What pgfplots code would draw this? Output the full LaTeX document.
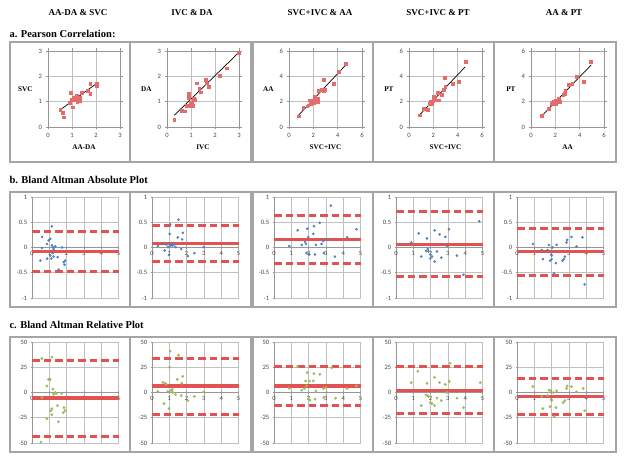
\documentclass[border=0pt]{standalone}
\usepackage{fontspec}
\setmainfont{Liberation Serif}
\newfontfamily\carlito{Carlito}
\usepackage{pgfplots}
\pgfplotsset{compat=1.18}
\definecolor{ptred}{RGB}{228,108,108}
\definecolor{bablue}{RGB}{79,129,189}
\definecolor{brgreen}{RGB}{155,187,89}
\definecolor{lnred}{RGB}{226,82,82}
\definecolor{gridc}{RGB}{192,192,192}
\definecolor{axc}{RGB}{150,150,150}
\definecolor{boxc}{RGB}{165,165,165}
\definecolor{tickc}{RGB}{70,70,70}
\pgfplotsset{
  base/.style={scale only axis, anchor=south west, clip=false,
    tick label style={font=\carlito\fontsize{6.6}{7.5}\selectfont, text=tickc},
    /pgf/number format/assume math mode=true,
    grid=major, grid style={gridc, line width=0.6pt},
    axis line style={axc, line width=0.6pt},
    tick style={axc, line width=0.6pt},
    tick align=outside, major tick length=2.5pt,
    label style={font=\bfseries\fontsize{7.2}{8}\selectfont},
    xlabel style={at={(axis description cs:0.5,0)}, anchor=center, yshift=-20pt},
    ylabel style={rotate=-90, at={(axis description cs:0,0.5)}, anchor=east, xshift=-12pt},
  },
  rowa3/.style={base, width=72pt, height=76pt, xmin=0, xmax=3, ymin=0, ymax=3,
    xtick={0,1,2,3}, ytick={0,1,2,3}},
  rowa6/.style={base, width=73pt, height=76pt, xmin=0, xmax=6, ymin=0, ymax=6,
    xtick={0,2,4,6}, ytick={0,2,4,6}},
  rowb/.style={base, width=86.5pt, height=101pt, xmin=0, xmax=5, ymin=-1, ymax=1,
    xtick={0,1,2,3,4,5}, ytick={-1,-0.5,0,0.5,1},
    axis x line=middle, axis y line=left, axis line style={-},
    hide obscured x ticks=false, hide obscured y ticks=false,
    xticklabel style={yshift=1pt}},
  rowc/.style={rowb, ymin=-50, ymax=50, ytick={-50,-25,0,25,50}},
  pts/.style={only marks, mark=square*, mark size=1.4pt, color=ptred},
  trend/.style={black, line width=0.7pt, no marks},
  bpts/.style={only marks, mark=*, mark size=1.1pt, color=bablue},
  cpts/.style={only marks, mark=*, mark size=1.2pt, color=brgreen},
  mline/.style={lnred, line width=3.3pt, no marks},
  dline/.style={lnred, line width=3pt, no marks, dash pattern=on 7.5pt off 4pt},
}
\begin{document}
\begin{tikzpicture}[x=1pt,y=1pt]
\useasboundingbox (0,0) rectangle (624,460);
% headers
\foreach \cx/\t in {78/{AA-DA \& SVC},192/{IVC \& DA},320/{SVC+IVC \& AA},438/{SVC+IVC \& PT},564/{AA \& PT}}
  \node[font=\bfseries\fontsize{9}{10}\selectfont] at (\cx,447) {\t};
\node[anchor=west, font=\bfseries\fontsize{10.5}{11}\selectfont] at (6,426) {a. Pearson Correlation:};
\node[anchor=west, font=\bfseries\fontsize{10.5}{11}\selectfont] at (6,280) {b. Bland Altman Absolute Plot};
\node[anchor=west, font=\bfseries\fontsize{10.5}{11}\selectfont] at (6,135) {c. Bland Altman Relative Plot};
% panel boxes
\foreach \xa/\xb in {10/130,130/251,253/373,373/494,494/616}{
  \draw[boxc, line width=1.3pt] (\xa,298) rectangle (\xb,418);
  \draw[boxc, line width=1.3pt] (\xa,153) rectangle (\xb,268);
  \draw[boxc, line width=1.3pt] (\xa,8) rectangle (\xb,123);
}
% ---------- row a ----------
\begin{axis}[rowa3, at={(48pt,333pt)}, xlabel={AA-DA}, ylabel={SVC}]
\addplot[pts] coordinates {(0.51,0.69)(0.60,0.55)(0.67,0.39)(0.95,1.34)(0.98,1.07)(1.02,0.78)(1.12,1.17)(1.19,1.24)(1.22,1.00)(1.31,1.04)(1.34,1.17)(1.41,1.34)(1.17,1.07)(1.28,1.11)(1.65,1.43)(1.76,1.30)(1.76,1.72)(2.03,1.72)(2.03,1.63)(0.90,0.95)(1.05,1.15)};
\addplot[trend] coordinates {(0.51,0.68)(2.03,1.72)};
\end{axis}
\begin{axis}[rowa3, at={(167pt,333pt)}, xlabel={IVC}, ylabel={DA}]
\addplot[pts] coordinates {(0.30,0.30)(0.61,0.63)(0.75,0.62)(0.89,1.30)(0.91,1.17)(0.93,0.85)(1.02,0.98)(1.06,0.83)(1.12,1.11)(1.16,1.07)(1.23,1.73)(1.34,1.50)(1.40,1.37)(1.61,1.86)(1.66,1.73)(1.73,1.60)(2.21,2.02)(2.48,2.32)(2.98,2.93)(0.82,0.85)(0.98,0.94)};
\addplot[trend] coordinates {(0.30,0.46)(2.98,2.93)};
\end{axis}
\begin{axis}[rowa6, at={(289pt,333pt)}, xlabel={SVC+IVC}, ylabel={AA}]
\addplot[pts] coordinates {(0.80,0.85)(1.16,1.50)(1.57,1.72)(1.71,2.12)(1.85,1.98)(2.00,1.90)(2.13,2.38)(2.27,2.17)(2.40,2.25)(2.46,2.86)(2.68,2.96)(2.82,2.83)(2.87,3.76)(2.96,2.96)(3.65,3.44)(4.06,4.37)(4.67,4.97)(1.49,1.64)(1.80,1.85)(2.04,2.12)(2.35,1.98)};
\addplot[trend] coordinates {(0.80,0.95)(4.62,4.85)};
\end{axis}
\begin{axis}[rowa6, at={(409pt,333pt)}, xlabel={SVC+IVC}, ylabel={PT}]
\addplot[pts] coordinates {(0.86,0.93)(1.19,1.46)(1.54,1.38)(1.68,1.85)(1.81,1.98)(1.95,2.04)(2.03,2.17)(2.00,2.43)(2.22,2.12)(2.35,2.70)(2.43,2.12)(2.70,2.57)(2.84,2.96)(2.95,3.92)(2.97,3.17)(3.62,3.44)(4.11,3.57)(4.65,5.13)(1.89,1.85)(2.11,2.25)};
\addplot[trend] coordinates {(0.86,0.95)(4.62,4.75)};
\end{axis}
\begin{axis}[rowa6, at={(531pt,333pt)}, xlabel={AA}, ylabel={PT}]
\addplot[pts] coordinates {(0.89,0.90)(1.46,1.46)(1.68,1.85)(1.81,1.90)(1.89,2.04)(2.03,2.12)(2.30,2.25)(2.35,1.98)(2.76,2.65)(2.81,2.91)(3.11,3.31)(3.38,3.44)(3.76,3.97)(4.35,3.60)(4.92,5.16)(2.03,1.85)(2.22,2.04)(2.65,2.55)};
\addplot[trend] coordinates {(0.89,0.88)(4.95,4.90)};
\end{axis}
% ---------- row b ----------
\begin{axis}[rowb, at={(32pt,162pt)}]
\addplot[mline] coordinates {(0,-0.08)(5,-0.08)};
\addplot[dline] coordinates {(0,0.32)(5,0.32)};
\addplot[dline] coordinates {(0,-0.48)(5,-0.48)};
\addplot[bpts] coordinates {(0.58,0.21)(0.58,-0.01)(0.48,-0.26)(0.87,0.07)(0.96,0.14)(1.06,0.17)(1.15,0.42)(1.15,0.04)(1.21,0.00)(1.25,-0.03)(1.35,0.02)(1.06,-0.16)(0.87,-0.22)(1.12,-0.22)(1.25,-0.18)(1.48,-0.19)(1.54,-0.44)(1.73,0.00)(1.83,-0.29)(1.88,-0.34)(1.92,-0.26)(1.19,-0.11)};
\end{axis}
\begin{axis}[rowb, at={(152pt,162pt)}]
\addplot[mline] coordinates {(0,0.08)(5,0.08)};
\addplot[dline] coordinates {(0,0.43)(5,0.43)};
\addplot[dline] coordinates {(0,-0.27)(5,-0.27)};
\addplot[bpts] coordinates {(0.34,0.03)(0.63,0.07)(0.73,-0.06)(0.82,0.06)(0.92,0.01)(0.98,-0.15)(1.02,0.27)(1.05,0.46)(1.07,0.04)(1.11,0.07)(1.17,0.04)(1.25,0.05)(1.36,0.01)(1.49,0.20)(1.53,0.55)(1.69,-0.03)(1.74,0.16)(1.78,0.29)(2.07,-0.17)(2.45,-0.11)(2.99,0.01)};
\end{axis}
\begin{axis}[rowb, at={(274pt,162pt)}]
\addplot[mline] coordinates {(0,0.16)(5,0.16)};
\addplot[dline] coordinates {(0,0.63)(5,0.63)};
\addplot[dline] coordinates {(0,-0.32)(5,-0.32)};
\addplot[bpts] coordinates {(0.88,0.03)(1.37,0.34)(1.60,0.05)(1.79,0.11)(1.85,0.07)(1.88,-0.11)(1.92,0.37)(1.98,0.21)(2.04,-0.14)(2.27,0.27)(2.31,0.42)(2.37,-0.14)(2.42,0.05)(2.65,0.49)(2.75,0.07)(2.85,0.13)(2.88,-0.11)(3.00,0.16)(3.29,0.83)(3.52,-0.18)(4.23,0.20)(4.77,0.36)};
\end{axis}
\begin{axis}[rowb, at={(396pt,162pt)}]
\addplot[mline] coordinates {(0,0.065)(5,0.065)};
\addplot[dline] coordinates {(0,0.72)(5,0.72)};
\addplot[dline] coordinates {(0,-0.575)(5,-0.575)};
\addplot[bpts] coordinates {(0.88,0.10)(1.31,0.28)(1.46,-0.18)(1.75,-0.07)(1.79,0.18)(1.83,-0.03)(1.88,-0.08)(1.98,-0.14)(1.98,-0.22)(2.08,-0.18)(2.23,-0.28)(2.23,0.34)(2.37,-0.08)(2.52,0.26)(2.62,-0.20)(2.85,0.21)(2.94,0.03)(3.06,0.36)(3.52,-0.16)(3.90,-0.54)(4.81,0.52)};
\end{axis}
\begin{axis}[rowb, at={(517pt,162pt)}]
\addplot[mline] coordinates {(0,-0.085)(5,-0.085)};
\addplot[dline] coordinates {(0,0.385)(5,0.385)};
\addplot[dline] coordinates {(0,-0.545)(5,-0.545)};
\addplot[bpts] coordinates {(0.92,0.07)(1.43,-0.05)(1.49,-0.23)(1.77,-0.05)(1.85,0.05)(1.91,-0.26)(2.00,-0.16)(2.06,0.00)(2.00,-0.23)(2.14,-0.51)(2.25,-0.31)(2.29,0.05)(2.63,-0.26)(2.71,-0.23)(2.77,-0.18)(2.86,0.10)(2.90,0.15)(3.15,0.21)(3.44,0.02)(3.78,0.20)(3.91,-0.73)};
\end{axis}
% ---------- row c ----------
\begin{axis}[rowc, at={(32pt,17pt)}]
\addplot[mline] coordinates {(0,-5.5)(5,-5.5)};
\addplot[dline] coordinates {(0,32)(5,32)};
\addplot[dline] coordinates {(0,-44)(5,-44)};
\addplot[cpts] coordinates {(0.57,33.7)(1.15,35)(0.57,-4.9)(0.52,-49)(0.86,6.5)(0.86,-26)(0.95,13)(1.05,13)(1.09,-18)(1.15,-16)(1.15,-22)(1.20,3.3)(1.24,-1.6)(1.34,0)(1.39,-1)(1.47,-13)(1.53,-29)(1.72,-1)(1.81,-20)(1.85,-15)(1.91,-18)};
\end{axis}
\begin{axis}[rowc, at={(152pt,17pt)}]
\addplot[mline] coordinates {(0,6.5)(5,6.5)};
\addplot[dline] coordinates {(0,34)(5,34)};
\addplot[dline] coordinates {(0,-21.5)(5,-21.5)};
\addplot[cpts] coordinates {(0.34,1)(0.63,10)(0.69,-11)(0.77,9)(0.82,8)(0.92,1)(0.98,-16)(1.02,25)(1.05,41)(1.11,2)(1.17,3)(1.21,0)(1.36,-2)(1.46,13)(1.53,37)(1.69,-3)(1.72,9)(1.78,16)(2.07,-8)(2.45,-4)(2.99,0.5)};
\end{axis}
\begin{axis}[rowc, at={(274pt,17pt)}]
\addplot[mline] coordinates {(0,6.5)(5,6.5)};
\addplot[dline] coordinates {(0,26)(5,26)};
\addplot[dline] coordinates {(0,-12.5)(5,-12.5)};
\addplot[cpts] coordinates {(0.88,4)(1.37,25.5)(1.60,2.3)(1.75,4)(1.83,11.4)(1.88,6.5)(1.92,19.6)(1.98,-6.5)(2.04,11.4)(2.08,-7.5)(2.27,11.4)(2.31,18.6)(2.37,-6.5)(2.42,1.6)(2.65,18)(2.85,4)(2.88,-4.9)(3.00,4.9)(3.33,24.5)(3.56,-5.6)(4.23,4)(4.77,6.5)};
\end{axis}
\begin{axis}[rowc, at={(396pt,17pt)}]
\addplot[mline] coordinates {(0,2.3)(5,2.3)};
\addplot[dline] coordinates {(0,26.2)(5,26.2)};
\addplot[dline] coordinates {(0,-20.8)(5,-20.8)};
\addplot[cpts] coordinates {(0.88,9.8)(1.27,21)(1.46,-13)(1.73,-2.3)(1.79,9)(1.83,-3.3)(1.88,-4)(1.98,-10)(2.08,-11)(2.23,15)(2.23,-13)(2.37,-5.6)(2.52,9.8)(2.62,-8)(2.85,8)(2.94,0)(3.08,11)(3.13,29)(3.52,-5.6)(3.90,-15)(4.87,9.8)};
\end{axis}
\begin{axis}[rowc, at={(517pt,17pt)}]
\addplot[mline] coordinates {(0,-4)(5,-4)};
\addplot[dline] coordinates {(0,14)(5,14)};
\addplot[dline] coordinates {(0,-21.5)(5,-21.5)};
\addplot[cpts] coordinates {(0.92,5.9)(1.43,-4)(1.49,-16)(1.77,-3)(1.85,2.3)(1.95,1.6)(1.91,-14)(2.00,-8)(2.10,0)(2.14,-24)(2.25,-15)(2.29,1.6)(2.67,-10)(2.77,-8)(2.86,4)(2.90,6.5)(3.15,5.9)(3.44,0.6)(3.82,4)(3.91,-18)};
\end{axis}
\end{tikzpicture}
\end{document}
